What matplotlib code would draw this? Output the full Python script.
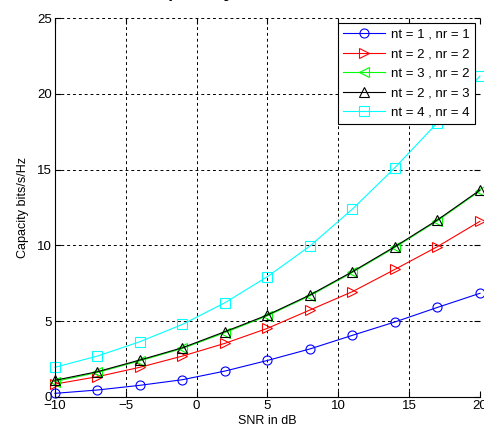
import matplotlib
matplotlib.use("Agg")
import matplotlib.pyplot as plt

plt.rcParams['font.family'] = ['Liberation Sans', 'DejaVu Sans']

# SNR points (dB)
snr_db = [-10, -7, -4, -1, 2, 5, 8, 11, 14, 17, 20]

# capacity readings (bits/s/Hz)
cap_11 = [0.24, 0.46, 0.77, 1.14, 1.71, 2.41, 3.17, 4.07, 4.95, 5.91, 6.84]
cap_22 = [0.85, 1.34, 1.96, 2.70, 3.54, 4.53, 5.74, 6.95, 8.42, 9.92, 11.59]
cap_32 = [1.02, 1.62, 2.39, 3.20, 4.25, 5.36, 6.68, 8.22, 9.87, 11.63, 13.60]
cap_23 = [1.10, 1.67, 2.44, 3.25, 4.31, 5.41, 6.73, 8.27, 9.92, 11.68, 13.65]
cap_44 = [1.96, 2.70, 3.65, 4.79, 6.22, 7.94, 9.96, 12.40, 15.13, 18.10, 21.17]

labels = ["nt = 1 , nr = 1", "nt = 2 , nr = 2", "nt = 3 , nr = 2",
          "nt = 2 , nr = 3", "nt = 4 , nr = 4"]
x_ticks = [-10, -5, 0, 5, 10, 15, 20]
y_ticks = [0, 5, 10, 15, 20, 25]

fig = plt.figure(figsize=(4.84, 4.34), dpi=100)
ax = fig.add_axes([0.1136, 0.0853, 0.8781, 0.8732])

series = [
    (cap_11, "blue", "o"),
    (cap_22, "red", ">"),
    (cap_32, "#00ff00", "<"),
    (cap_23, "black", "^"),
    (cap_44, "cyan", "s"),
]
for (vals, col, mk), lab in zip(series, labels):
    ax.plot(snr_db, vals, color=col, marker=mk, markersize=6.5,
            markerfacecolor="none", markeredgecolor=col, markeredgewidth=0.8,
            linewidth=0.8, label=lab, clip_on=False)

ax.set_xlim(-10, 20)
ax.set_ylim(0, 25)
ax.set_xticks(x_ticks)
ax.set_yticks(y_ticks)
ax.grid(True, color="black", linestyle=(0, (3, 3)), linewidth=0.7)
ax.set_axisbelow(True)
ax.spines["top"].set_visible(False)
ax.spines["right"].set_visible(False)
ax.tick_params(direction="in", top=True, right=True, length=4, labelsize=9.5,
               pad=2)

ax.set_xlabel("SNR in dB", fontsize=9, labelpad=2)
ax.set_ylabel("Capacity bits/s/Hz", fontsize=9, labelpad=6)

# title sits mostly above the saved area, only its lower edge shows
fig.text(0.494, 1 + 4 / 434, "Capacity of MIMO", ha="center", va="baseline",
         fontsize=19)

leg = ax.legend(loc="upper right", fontsize=9.5, fancybox=False, framealpha=1,
                edgecolor="black", borderaxespad=0.4, handlelength=3.2,
                labelspacing=0.55, borderpad=0.4, handletextpad=0.4)
leg.get_frame().set_linewidth(0.8)

fig.savefig("out.png", dpi=100)
